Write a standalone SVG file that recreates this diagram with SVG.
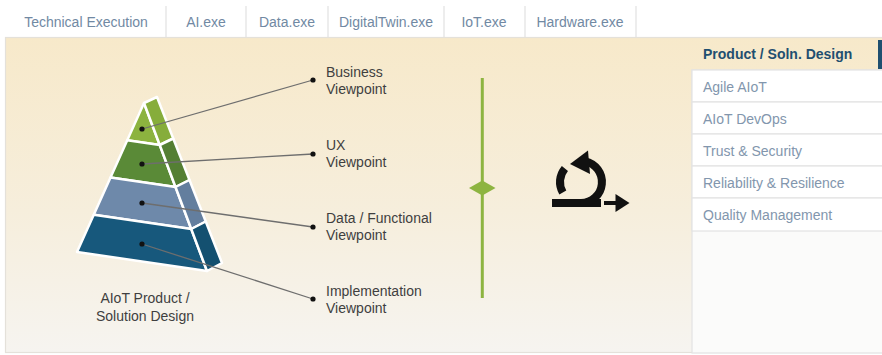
<svg xmlns="http://www.w3.org/2000/svg" width="882" height="355" viewBox="0 0 882 355">
  <style>
    .tab { font-family: "Liberation Sans", Arial, sans-serif; font-size: 14px; fill: #7189a3; text-anchor: middle; }
    .sep { stroke: #e1e1e1; stroke-width: 1.2; }
    .label { font-family: "Liberation Sans", Arial, sans-serif; font-size: 14px; fill: #3f3f3f; }
    .menu { font-family: "Liberation Sans", Arial, sans-serif; font-size: 14px; fill: #8296ad; }
    .menu-head { font-family: "Liberation Sans", Arial, sans-serif; font-size: 14px; font-weight: bold; fill: #1f4f70; }
    .row { fill: #ffffff; stroke: #e3e3e3; stroke-width: 1.2; }
    .layer { stroke: #ffffff; stroke-width: 2.5; stroke-linejoin: round; }
    .lead { stroke: #6e6e6e; stroke-width: 1.3; fill: none; }
    .dot { fill: #111111; }
    .icon { stroke: #111111; stroke-width: 8; fill: none; stroke-linecap: butt; }
  </style>
  <defs>
    <linearGradient id="panelBg" x1="0" y1="0" x2="0" y2="1">
      <stop offset="0" stop-color="#f7e9ca"/>
      <stop offset="0.55" stop-color="#f6eedc"/>
      <stop offset="1" stop-color="#f6f4f0"/>
    </linearGradient>
  </defs>

  <!-- page background -->
  <rect x="0" y="0" width="882" height="355" fill="#ffffff"/>

  <!-- tab bar -->
  <g id="tabs">
    <text class="tab" x="86" y="27">Technical Execution</text>
    <line class="sep" x1="166" y1="6" x2="166" y2="38"/>
    <text class="tab" x="206" y="27">AI.exe</text>
    <line class="sep" x1="246" y1="6" x2="246" y2="38"/>
    <text class="tab" x="287" y="27">Data.exe</text>
    <line class="sep" x1="328" y1="6" x2="328" y2="38"/>
    <text class="tab" x="386" y="27">DigitalTwin.exe</text>
    <line class="sep" x1="444" y1="6" x2="444" y2="38"/>
    <text class="tab" x="484" y="27">IoT.exe</text>
    <line class="sep" x1="525" y1="6" x2="525" y2="38"/>
    <text class="tab" x="580" y="27">Hardware.exe</text>
    <line class="sep" x1="636" y1="6" x2="636" y2="38"/>
  </g>

  <!-- content panel -->
  <rect x="5.5" y="37.5" width="880" height="315" fill="url(#panelBg)" stroke="#e4e1da" stroke-width="1.2"/>

  <!-- side menu -->
  <g id="menu">
    <text class="menu-head" x="703" y="59">Product / Soln. Design</text>
    <rect x="878" y="40" width="4" height="29" fill="#1f4f70"/>
    <rect x="692" y="70" width="192" height="283" fill="#fbfbfa" stroke="#e3e3e3" stroke-width="1.2"/>
    <g id="menu-agile"><rect class="row" x="692" y="70" width="192" height="32"/><text class="menu" x="703" y="92">Agile AIoT</text></g>
    <g id="menu-devops"><rect class="row" x="692" y="102" width="192" height="32"/><text class="menu" x="703" y="124">AIoT DevOps</text></g>
    <g id="menu-trust"><rect class="row" x="692" y="134" width="192" height="32"/><text class="menu" x="703" y="156">Trust &amp; Security</text></g>
    <g id="menu-reliability"><rect class="row" x="692" y="166" width="192" height="32"/><text class="menu" x="703" y="188">Reliability &amp; Resilience</text></g>
    <g id="menu-quality"><rect class="row" x="692" y="198" width="192" height="33"/><text class="menu" x="703" y="220">Quality Management</text></g>
  </g>

  <!-- pyramid -->
  <g id="pyramid">
    <polygon class="layer" fill="#8cb33f" points="144,103 159.75,145 127.25,140.25"/>
    <polygon class="layer" fill="#86ad3b" points="144,103 157,97 173.25,138.5 159.75,145"/>
    <polygon class="layer" fill="#5a8a37" points="127.25,140.25 159.75,145 175.5,187 110.5,177.5"/>
    <polygon class="layer" fill="#547f33" points="159.75,145 173.25,138.5 189.5,180 175.5,187"/>
    <polygon class="layer" fill="#6e89aa" points="110.5,177.5 175.5,187 191.25,229 93.75,214.75"/>
    <polygon class="layer" fill="#637e9e" points="175.5,187 189.5,180 205.75,221.5 191.25,229"/>
    <polygon class="layer" fill="#17587c" points="93.75,214.75 191.25,229 207,271 77,252"/>
    <polygon class="layer" fill="#145070" points="191.25,229 205.75,221.5 222,263 207,271"/>
    <text class="label" x="145" y="303" text-anchor="middle">AIoT Product /</text>
    <text class="label" x="145" y="321" text-anchor="middle">Solution Design</text>
  </g>

  <!-- viewpoint connectors -->
  <g id="connectors">
    <line class="lead" x1="142" y1="129" x2="313" y2="80"/>
    <line class="lead" x1="142" y1="164" x2="313" y2="154"/>
    <line class="lead" x1="142" y1="203" x2="313" y2="227"/>
    <line class="lead" x1="142" y1="244" x2="313" y2="299"/>
    <circle class="dot" cx="142" cy="129" r="2.6"/>
    <circle class="dot" cx="142" cy="164" r="2.6"/>
    <circle class="dot" cx="142" cy="203" r="2.6"/>
    <circle class="dot" cx="142" cy="244" r="2.6"/>
    <circle class="dot" cx="313" cy="80" r="2.6"/>
    <circle class="dot" cx="313" cy="154" r="2.6"/>
    <circle class="dot" cx="313" cy="227" r="2.6"/>
    <circle class="dot" cx="313" cy="299" r="2.6"/>
  </g>

  <!-- viewpoint labels -->
  <g id="vp-business">
    <text class="label" x="326" y="77">Business</text>
    <text class="label" x="326" y="94">Viewpoint</text>
  </g>
  <g id="vp-ux">
    <text class="label" x="326" y="150">UX</text>
    <text class="label" x="326" y="167">Viewpoint</text>
  </g>
  <g id="vp-data">
    <text class="label" x="326" y="223">Data / Functional</text>
    <text class="label" x="326" y="240">Viewpoint</text>
  </g>
  <g id="vp-impl">
    <text class="label" x="326" y="296">Implementation</text>
    <text class="label" x="326" y="313">Viewpoint</text>
  </g>

  <!-- green divider with diamond -->
  <g id="divider">
    <line x1="482.3" y1="78" x2="482.3" y2="298" stroke="#8db441" stroke-width="3"/>
    <polygon points="469,188 482.3,180.5 495.5,188 482.3,195.5" fill="#8db441"/>
  </g>

  <!-- iteration icon: loop arc with arrowhead, bottom bar, exit arrow -->
  <g id="iterate-icon">
    <path class="icon" d="M552 203 H601"/>
    <path class="icon" d="M581 203 A21 21 0 0 0 585 161.4"/>
    <polygon points="570,164 588,150.5 590,174" fill="#111111"/>
    <path class="icon" d="M564.9 168.5 A21 21 0 0 0 562.8 192.5"/>
    <line x1="604" y1="203" x2="618" y2="203" stroke="#111111" stroke-width="4"/>
    <polygon points="629.5,203 615.5,194 615.5,212" fill="#111111"/>
  </g>
</svg>
